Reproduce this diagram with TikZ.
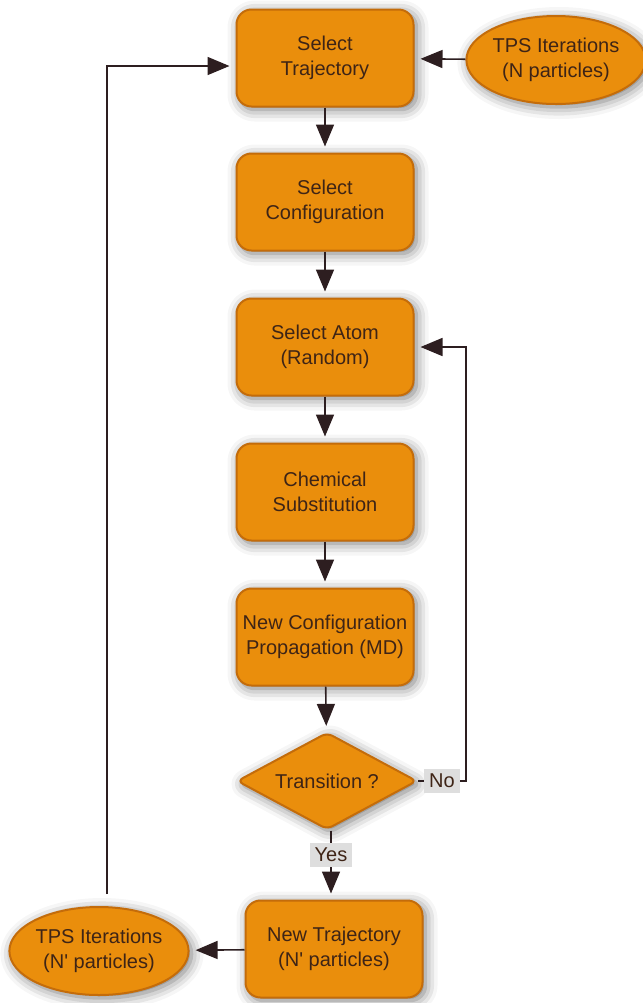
\documentclass[tikz,border=0pt]{standalone}
\usepackage{fontspec}
\setmainfont{Liberation Sans}
\usetikzlibrary{shapes.geometric,arrows.meta,shadows.blur}
\definecolor{boxfill}{RGB}{234,142,12}
\definecolor{boxline}{RGB}{196,108,10}
\definecolor{boxtext}{RGB}{62,36,22}
\definecolor{conncol}{RGB}{45,30,32}
\definecolor{lblgray}{RGB}{222,222,222}
\begin{document}
\begin{tikzpicture}[x=0.5pt,y=-0.5pt,
    font=\fontsize{10}{12.5}\selectfont,
    shade/.style={blur shadow={shadow xshift=1.5pt,shadow yshift=-1.5pt,shadow blur radius=6pt,shadow opacity=55}},
    stepbox/.style={rectangle,rounded corners=7.5pt,draw=boxline,line width=1pt,fill=boxfill,
        text=boxtext,align=center,minimum width=88.5pt,minimum height=48.5pt,inner sep=2pt,shade},
    iterell/.style={ellipse,draw=boxline,line width=1pt,fill=boxfill,text=boxtext,align=center,
        minimum width=88pt,minimum height=44pt,inner sep=0pt,shade},
    decide/.style={diamond,aspect=1.85,draw=boxline,line width=1pt,fill=boxfill,text=boxtext,
        rounded corners=3pt,minimum width=90pt,minimum height=48.5pt,inner sep=0pt,shade},
    conn/.style={draw=conncol,line width=0.8pt,-{Triangle[length=11pt,width=9pt]},shorten >=3pt},
    lbl/.style={fill=lblgray,text=boxtext,inner sep=2.5pt}]

        \useasboundingbox (0,0) rectangle (643,1003);

        \node[stepbox] (traj)    at (325,58)  {Select\\Trajectory};
        \node[stepbox] (conf)    at (325,202) {Select\\Configuration};
        \node[stepbox] (atom)    at (325,347) {Select Atom\\(Random)};
        \node[stepbox] (subst)   at (325,492) {Chemical\\Substitution};
        \node[stepbox] (prop)    at (325,637) {New Configuration\\Propagation (MD)};
        \node[decide]  (trans)   at (327,781) {Transition ?};
        \node[stepbox] (newtraj) at (334,949) {New Trajectory\\(N\textquotesingle{} particles)};
        \node[iterell] (tpsN)    at (556,60)  {TPS Iterations\\(N particles)};
        \node[iterell] (tpsNp)   at (99,951)  {TPS Iterations\\(N\textquotesingle{} particles)};

        \coordinate (loopR) at (466,781);
        \coordinate (loopL) at (107,66);
        \coordinate (yesx)  at (331,0);

        \draw[conn] (tpsN)   -- (traj);
        \draw[conn] (traj)   -- (conf);
        \draw[conn] (conf)   -- (atom);
        \draw[conn] (atom)   -- (subst);
        \draw[conn] (subst)  -- (prop);
        \draw[conn] (prop)   -- (trans);
        \draw[conn] (trans.east) -- node[lbl] {No} (loopR) |- (atom.east);
        \draw[conn] (trans.south -| yesx) -- node[lbl,pos=0.35] {Yes} (newtraj.north -| yesx);
        \draw[conn] (newtraj) -- (tpsNp);
        \draw[conn,shorten <=6pt] (tpsNp.north -| loopL) -- (loopL) -- (loopL -| traj.west);
\end{tikzpicture}
\end{document}
